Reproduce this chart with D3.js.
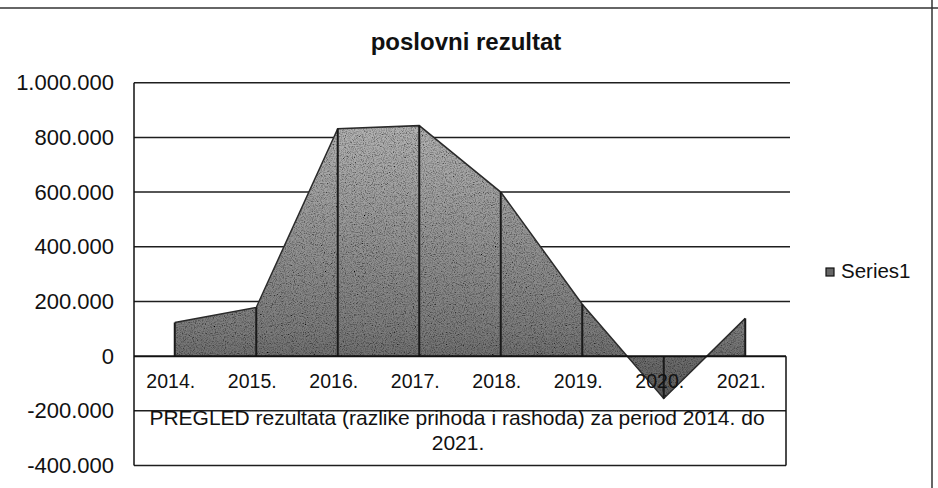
<!DOCTYPE html>
<html>
<head>
<meta charset="utf-8">
<script src="https://cdn.jsdelivr.net/npm/d3@7"></script>
<style>
  body { margin: 0; background: #fff; }
  text { font-family: Arial, "Liberation Sans", sans-serif; fill: #111; }
</style>
</head>
<body>
<div id="chart"></div>
<script>
// data
var years = ["2014.", "2015.", "2016.", "2017.", "2018.", "2019.", "2020.", "2021."];
var values = [123000, 178000, 832000, 843000, 600000, 190000, -155000, 138000];
var yTicks = [-400000, -200000, 0, 200000, 400000, 600000, 800000, 1000000];
var chartTitle = "poslovni rezultat";
var tableTitle = ["PREGLED rezultata (razlike prihoda i rashoda) za period 2014. do", "2021."];
var seriesName = "Series1";

var W = 938, H = 488;
var plotLeft = 134, plotRight = 786, gridRight = 790;

var svg = d3.select("#chart")
  .append("svg")
    .attr("width", W)
    .attr("height", H);

var defs = svg.append("defs");

// grey fill, darker toward the axis like the photocopy
var grad = defs.append("linearGradient")
    .attr("id", "fillGrad")
    .attr("gradientUnits", "userSpaceOnUse")
    .attr("x1", 0).attr("x2", 0)
    .attr("y1", 120).attr("y2", 400);
grad.append("stop").attr("offset", "0%").attr("stop-color", "#b4b4b4");
grad.append("stop").attr("offset", "75%").attr("stop-color", "#7c7c7c");
grad.append("stop").attr("offset", "100%").attr("stop-color", "#5a5a5a");

// speckle so it reads like the scan
var grain = defs.append("filter").attr("id", "grain");
grain.append("feTurbulence")
    .attr("type", "fractalNoise")
    .attr("baseFrequency", 0.9)
    .attr("numOctaves", 2)
    .attr("seed", 4)
    .attr("result", "noise");
grain.append("feColorMatrix")
    .attr("in", "noise")
    .attr("type", "matrix")
    .attr("values", "0.33 0.33 0.33 0 0  0.33 0.33 0.33 0 0  0.33 0.33 0.33 0 0  0 0 0 0 1")
    .attr("result", "grey");
var ct = grain.append("feComponentTransfer").attr("in", "grey").attr("result", "contrast");
["R", "G", "B"].forEach(function(c) {
  ct.append("feFunc" + c).attr("type", "linear").attr("slope", 3.2).attr("intercept", -0.75);
});
grain.append("feBlend")
    .attr("in", "SourceGraphic")
    .attr("in2", "contrast")
    .attr("mode", "multiply")
    .attr("result", "mixed");
grain.append("feComposite")
    .attr("in", "mixed")
    .attr("in2", "SourceGraphic")
    .attr("operator", "in");

// scales
var x = d3.scaleBand()
  .domain(years)
  .range([plotLeft, plotRight]);

var y = d3.scaleLinear()
  .domain([-400000, 1000000])
  .range([465.5, 82.7]);

var cx = function(d, i) { return x(years[i]) + x.bandwidth() / 2; };

var fmt = d3.formatLocale({
  decimal: ",", thousands: ".", grouping: [3], currency: ["", ""], minus: "-"
}).format(",d");

// outer chart frame (only top and right edge show on the scan)
svg.append("line").attr("x1", 0).attr("x2", W).attr("y1", 8).attr("y2", 8)
  .style("stroke", "#333").style("stroke-width", 1.5);
svg.append("line").attr("x1", 932).attr("x2", 932).attr("y1", 0).attr("y2", H)
  .style("stroke", "#333").style("stroke-width", 1.5);

// gridlines (the negative ones double as data table rules)
svg.append("g")
  .selectAll("line")
  .data(yTicks.filter(function(t) { return t !== 0; }))
  .enter()
  .append("line")
    .attr("x1", plotLeft)
    .attr("x2", function(t) { return t > 0 ? gridRight : plotRight; })
    .attr("y1", function(t) { return y(t); })
    .attr("y2", function(t) { return y(t); })
    .style("stroke", "#1e1e1e")
    .style("stroke-width", 1.5);

// area
var area = d3.area()
  .x(cx)
  .y0(y(0))
  .y1(function(d) { return y(d); });

svg.append("path")
  .datum(values)
  .attr("d", area)
  .style("fill", "url(#fillGrad)")
  .attr("filter", "url(#grain)");

var topLine = d3.line()
  .x(cx)
  .y(function(d) { return y(d); });

svg.append("path")
  .datum(values)
  .attr("d", topLine)
  .style("fill", "none")
  .style("stroke", "#2a2a2a")
  .style("stroke-width", 1.5);

// drop lines at each year
svg.append("g")
  .selectAll("line")
  .data(values)
  .enter()
  .append("line")
    .attr("x1", cx).attr("x2", cx)
    .attr("y1", y(0))
    .attr("y2", function(d) { return y(d); })
    .style("stroke", "#1a1a1a")
    .style("stroke-width", 2);

// zero axis / data table top
svg.append("line")
  .attr("x1", plotLeft).attr("x2", plotRight)
  .attr("y1", y(0)).attr("y2", y(0))
  .style("stroke", "#111").style("stroke-width", 2);

// left axis line and data table right side
svg.append("line")
  .attr("x1", plotLeft).attr("x2", plotLeft)
  .attr("y1", y(1000000)).attr("y2", y(-400000))
  .style("stroke", "#111").style("stroke-width", 1.5);
svg.append("line")
  .attr("x1", plotRight).attr("x2", plotRight)
  .attr("y1", y(0)).attr("y2", y(-400000))
  .style("stroke", "#111").style("stroke-width", 1.5);

// y axis labels
var yAxis = svg.append("g")
  .attr("transform", "translate(114,0)")
  .call(d3.axisLeft(y).tickValues(yTicks).tickFormat(fmt).tickSize(0).tickPadding(0));
yAxis.select(".domain").remove();
yAxis.selectAll("text")
  .style("font-size", "22px")
  .style("font-family", "Arial, 'Liberation Sans', sans-serif")
  .style("fill", "#111");

// year labels in the data table
var xAxis = svg.append("g")
  .attr("transform", "translate(0," + y(0) + ")")
  .call(d3.axisBottom(x).tickSize(0).tickPadding(18));
xAxis.select(".domain").remove();
xAxis.selectAll("text")
  .attr("dx", "-4")
  .style("font-size", "19.5px")
  .style("font-family", "Arial, 'Liberation Sans', sans-serif")
  .style("fill", "#111");

// data table caption, two lines
svg.append("text")
  .attr("x", (plotLeft + plotRight) / 2 - 3)
  .attr("y", 425)
  .attr("text-anchor", "middle")
  .style("font-size", "21px")
  .text(tableTitle[0]);
svg.append("text")
  .attr("x", (plotLeft + plotRight) / 2 - 2)
  .attr("y", 450)
  .attr("text-anchor", "middle")
  .style("font-size", "21px")
  .text(tableTitle[1]);

// title
svg.append("text")
  .attr("x", 466)
  .attr("y", 50)
  .attr("text-anchor", "middle")
  .style("font-size", "24px")
  .style("font-weight", "bold")
  .text(chartTitle);

// legend
svg.append("rect")
  .attr("x", 826).attr("y", 268)
  .attr("width", 8).attr("height", 8)
  .style("fill", "#666")
  .style("stroke", "#111")
  .style("stroke-width", 1.2);
svg.append("text")
  .attr("x", 841)
  .attr("y", 278)
  .style("font-size", "20.5px")
  .text(seriesName);
</script>
</body>
</html>
